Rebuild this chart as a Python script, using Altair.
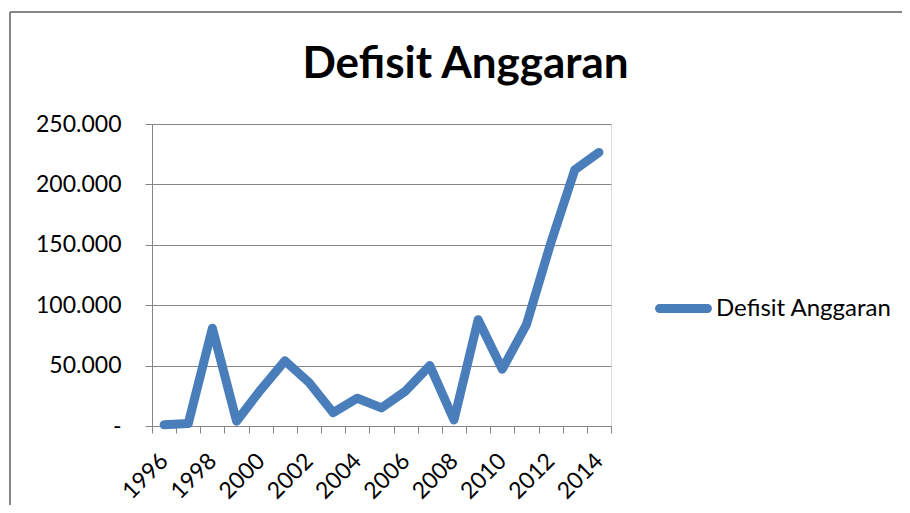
import altair as alt
import pandas as pd

years = [str(y) for y in range(1996, 2015)]
deficit = [1000, 2000, 81000, 4000, 30000, 54000, 36000, 11000, 23000, 15000,
           29000, 50000, 5000, 88000, 47000, 84000, 151000, 212000, 226500]
series = ["Defisit Anggaran"] * len(years)
y_ticks = [0, 50000, 100000, 150000, 200000, 250000]

df = pd.DataFrame({"Tahun": years, "Nilai": deficit, "Seri": series})

FONT = "Lato"
GRAY = "#868686"
BLUE = "#4A7EBB"
CAPSULE = "M-0.842,-0.158 L0.842,-0.158 A0.158,0.158 0 0 1 0.842,0.158 L-0.842,0.158 A0.158,0.158 0 0 1 -0.842,-0.158 Z"

base = alt.Chart(df)

line = base.mark_line(strokeWidth=9, strokeCap="round", strokeJoin="round").encode(
    x=alt.X("Tahun:O",
            scale=alt.Scale(type="band", paddingInner=0, paddingOuter=0),
            axis=alt.Axis(title=None, labelAngle=-45, labelAlign="right",
                          labelBaseline="middle", labelPadding=24,
                          labelExpr="parseInt(datum.value) % 2 == 0 ? datum.value : ''",
                          tickBand="extent", tickSize=7, tickColor=GRAY,
                          domainColor=GRAY, grid=False, labelFontSize=23,
                          labelFont=FONT, labelColor="#000000")),
    y=alt.Y("Nilai:Q",
            scale=alt.Scale(domain=[0, 250000], nice=False),
            axis=alt.Axis(title=None, values=y_ticks, tickSize=7, tickColor=GRAY,
                          domainColor=GRAY, gridColor=GRAY, grid=True,
                          labelPadding=24, labelFontSize=23, labelFont=FONT,
                          labelColor="#000000",
                          labelExpr="datum.value == 0 ? '-' : replace(format(datum.value, ',.0f'), ',', '.')")),
    color=alt.Color("Seri:N", scale=alt.Scale(range=[BLUE]),
                    legend=alt.Legend(title=None, orient="none", legendX=503, legendY=156,
                                      symbolType=CAPSULE, symbolSize=3249,
                                      symbolStrokeWidth=0, symbolFillColor=BLUE,
                                      labelFontSize=24, labelLimit=400,
                                      labelFont=FONT, labelColor="#000000",
                                      labelOffset=4)),
)

border_left = base.mark_rule(color=GRAY, strokeWidth=2).encode(
    x=alt.value(-142), y=alt.value(-112), y2=alt.value(500))
border_top = base.mark_rule(color=GRAY, strokeWidth=2).encode(
    x=alt.value(-142), x2=alt.value(800), y=alt.value(-112))

chart = alt.layer(border_left, border_top, line).properties(
    width=459, height=302,
    autosize=alt.AutoSizeParams(type="none"),
    padding={"left": 144, "top": 116, "right": 291, "bottom": 79},
    title=alt.TitleParams("Defisit Anggaran", font=FONT, fontSize=44, fontWeight="bold",
                          color="#000000", anchor="middle", frame="group", dx=84,
                          offset=-76),
).configure_view(stroke=None).configure(background="white")

chart.save("out.html", embed_options={"renderer": "svg", "actions": False})
